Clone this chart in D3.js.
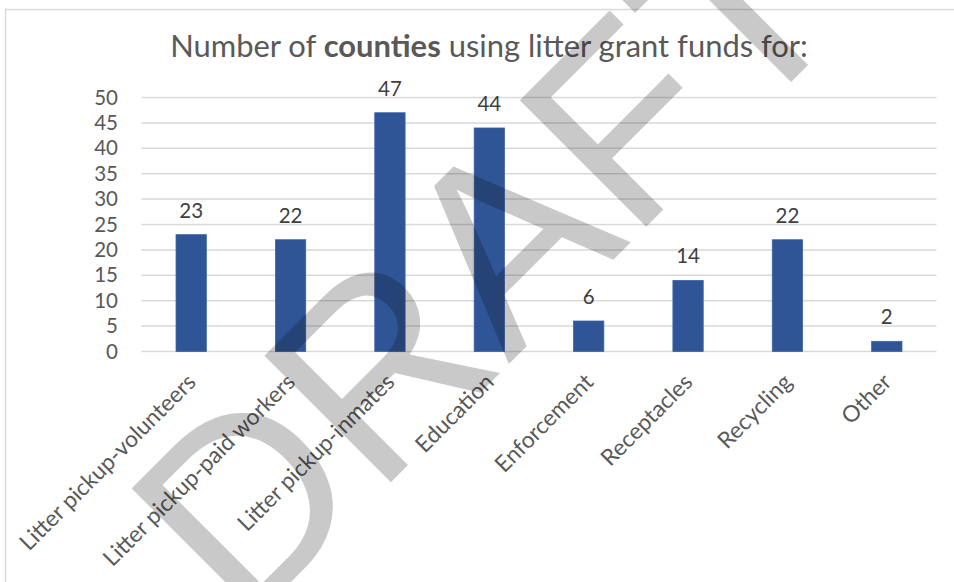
<!DOCTYPE html>
<html><head><meta charset="utf-8">
<script src="https://cdn.jsdelivr.net/npm/d3@7"></script>
<style>body{margin:0;background:#fff;} svg{display:block;}</style>
</head><body>
<script>
const categories = ["Litter pickup-volunteers","Litter pickup-paid workers","Litter pickup-inmates","Education","Enforcement","Receptacles","Recycling","Other"];
const values = [23,22,47,44,6,14,22,2];
const yTicks = [0,5,10,15,20,25,30,35,40,45,50];
const titleParts = [["Number of ",false],["counties",true],[" using litter grant funds for:",false]];
const watermark = "DRAFT";

const W = 954, H = 582;
const svg = d3.select("body").append("svg").attr("width",W).attr("height",H);
const font = "Lato, 'Open Sans', sans-serif";

// helper: font size so that a text reaches a target width
function fitSize(txt, target, weight){
  const t = svg.append("text").attr("font-family",font).attr("font-size",100)
    .attr("font-weight",weight||"normal").text(txt);
  const w = t.node().getComputedTextLength(); t.remove();
  return 100*target/w;
}

svg.append("rect").attr("x",5.5).attr("y",9.5).attr("width",1000).attr("height",1000)
  .attr("fill","#fff").attr("stroke","#d9d9d9").attr("stroke-width",1.5);

const x = d3.scaleBand().domain(categories).range([141.5,936.5]).paddingInner(0).paddingOuter(0);
const y = d3.scaleLinear().domain([0,50]).range([351.5,97.5]);
const barW = x.bandwidth()*0.305;
const numSize = 20.5;

// gridlines
svg.append("g").selectAll("line").data(yTicks).join("line")
  .attr("x1",141.5).attr("x2",936.5).attr("y1",d=>y(d)).attr("y2",d=>y(d))
  .attr("stroke","#d9d9d9").attr("stroke-width",1.5);

// y axis labels
const yAxis = svg.append("g").attr("transform","translate(126,0)")
  .call(d3.axisLeft(y).tickValues(yTicks).tickSize(0).tickPadding(8));
yAxis.select(".domain").remove();
yAxis.selectAll("text").attr("font-family",font).attr("font-size",numSize).attr("fill","#595959");

// bars
svg.append("g").selectAll("rect").data(values).join("rect")
  .attr("x",(d,i)=>x(categories[i])+x.bandwidth()/2-barW/2)
  .attr("y",d=>y(d)).attr("width",barW).attr("height",d=>y(0)-y(d))
  .attr("fill","#2F5597").attr("stroke","#3b63a8").attr("stroke-width",0.8);

// data labels
svg.append("g").selectAll("text").data(values).join("text")
  .attr("x",(d,i)=>x(categories[i])+x.bandwidth()/2)
  .attr("y",d=>y(d)-17).attr("text-anchor","middle")
  .attr("font-family",font).attr("font-size",numSize).attr("fill","#404040").text(d=>d);

// x axis labels
const xSize = fitSize(categories[0], 238);
const xAxis = svg.append("g").attr("transform","translate(0,351.5)")
  .call(d3.axisBottom(x).tickSize(0).tickPadding(0));
xAxis.select(".domain").remove();
xAxis.selectAll("text")
  .attr("font-family",font).attr("font-size",xSize).attr("fill","#595959")
  .attr("text-anchor","end").attr("dy",0).attr("y",0)
  .attr("transform","translate(6,32) rotate(-45)");

// title
const t = svg.append("text").attr("x",489).attr("y",57).attr("text-anchor","middle")
  .attr("font-family",font).attr("font-size",30).attr("fill","#595959");
t.selectAll("tspan").data(titleParts).join("tspan").attr("font-weight",d=>d[1]?"bold":"normal").text(d=>d[0]);
const tw = t.node().getComputedTextLength();
t.attr("font-size",30*638/tw);

// watermark
svg.append("text").attr("transform","translate(243,630) rotate(-45)")
  .attr("font-family","'Liberation Sans', Arial, sans-serif").attr("font-size",260)
  .attr("fill","#000").attr("fill-opacity",0.21).text(watermark);
</script>
</body></html>
